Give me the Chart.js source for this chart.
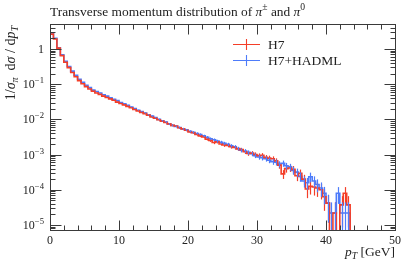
<!DOCTYPE html>
<html>
<head>
<meta charset="utf-8">
<script src="https://cdn.jsdelivr.net/npm/chart.js@4/dist/chart.umd.min.js"></script>
<style>
  html, body { margin: 0; padding: 0; background: #fff; }
  #wrap { width: 407px; height: 265px; }
</style>
</head>
<body>
<div id="wrap"><canvas id="ptChart"></canvas></div>
<script>
// pT binning: 0.5 GeV bins from 0 to 43.5 GeV
const binWidth = 0.5;
const nBins = 87;
const binEdges = Array.from({ length: nBins + 1 }, (_, i) => i * binWidth);

// 1/sigma dsigma/dpT, H7
const h7Values = [
  2.63, 1.91, 1.05, 0.646, 0.417, 0.295, 0.214, 0.162, 0.126, 0.102,
  0.0851, 0.0724, 0.0631, 0.0562, 0.0513, 0.0457, 0.0417, 0.0380, 0.0347, 0.0309,
  0.0282, 0.0257, 0.0234, 0.0214, 0.0191, 0.0174, 0.0158, 0.0145, 0.0132, 0.0117,
  0.0107, 0.00977, 0.00891, 0.00813, 0.00741, 0.00676, 0.00646, 0.00575, 0.00537, 0.00490,
  0.00437, 0.00417, 0.00372, 0.00339, 0.00316, 0.00275, 0.00251, 0.00219, 0.00229, 0.00200,
  0.00186, 0.00182, 0.00166, 0.00158, 0.00145, 0.00138, 0.00120, 0.00107, 0.00110, 0.00100,
  0.000933, 0.000955, 0.000832, 0.000794, 0.000759, 0.000661, 0.000501, 0.000282, 0.000398, 0.000417,
  0.000380, 0.000251, 0.000295, 0.000200, 0.000105, 0.000126, 0.000120, 0.000112, 0.000100, 0.0000631,
  0.0000417, 0, 0.0000219, 0, 0.0000372, 0.0000794, 0.0000372
];
// relative statistical uncertainty, H7
const h7Errors = [
  0.005, 0.005, 0.005, 0.005, 0.005, 0.005, 0.005, 0.005, 0.005, 0.005,
  0.015, 0.016, 0.017, 0.018, 0.019, 0.02, 0.021, 0.022, 0.023, 0.025,
  0.026, 0.027, 0.029, 0.03, 0.032, 0.034, 0.035, 0.037, 0.039, 0.041,
  0.044, 0.046, 0.048, 0.05, 0.053, 0.055, 0.057, 0.06, 0.062, 0.066,
  0.07, 0.072, 0.076, 0.08, 0.083, 0.088, 0.09, 0.1, 0.098, 0.105,
  0.11, 0.11, 0.115, 0.12, 0.125, 0.125, 0.135, 0.14, 0.14, 0.15,
  0.155, 0.15, 0.165, 0.17, 0.17, 0.18, 0.21, 0.28, 0.23, 0.23,
  0.24, 0.3, 0.27, 0.33, 0.45, 0.42, 0.43, 0.44, 0.47, 0.6,
  0.72, 0, 1.0, 0, 0.77, 0.5, 0.77
];

// 1/sigma dsigma/dpT, H7+HADML
const hadmlValues = [
  2.82, 2.00, 1.07, 0.676, 0.447, 0.316, 0.234, 0.178, 0.138, 0.112,
  0.0933, 0.0794, 0.0676, 0.0617, 0.0562, 0.0501, 0.0457, 0.0407, 0.0372, 0.0339,
  0.0302, 0.0275, 0.0251, 0.0224, 0.0204, 0.0182, 0.0166, 0.0151, 0.0135, 0.0123,
  0.0112, 0.0100, 0.00912, 0.00832, 0.00741, 0.00676, 0.00631, 0.00589, 0.00537, 0.00501,
  0.00457, 0.00427, 0.00398, 0.00372, 0.00339, 0.00309, 0.00282, 0.00263, 0.00240, 0.00224,
  0.00209, 0.00195, 0.00178, 0.00166, 0.00148, 0.00132, 0.00126, 0.00115, 0.00105, 0.000933,
  0.000851, 0.000813, 0.000759, 0.000692, 0.000631, 0.000603, 0.000537, 0.000562, 0.000479, 0.000447,
  0.000355, 0.000316, 0.000240, 0.000178, 0.000158, 0.000234, 0.000178, 0.000141, 0.000112, 0.0000794,
  0.0000417, 0.0000219, 0.0000219, 0.0000794, 0.0000219, 0.0000219, 0.0000219
];
// relative statistical uncertainty, H7+HADML
const hadmlErrors = [
  0.005, 0.005, 0.005, 0.005, 0.005, 0.005, 0.005, 0.005, 0.005, 0.005,
  0.015, 0.016, 0.017, 0.018, 0.019, 0.02, 0.021, 0.022, 0.023, 0.024,
  0.026, 0.027, 0.028, 0.03, 0.031, 0.033, 0.035, 0.036, 0.038, 0.04,
  0.043, 0.045, 0.048, 0.05, 0.053, 0.055, 0.057, 0.06, 0.062, 0.065,
  0.07, 0.072, 0.075, 0.077, 0.08, 0.083, 0.087, 0.09, 0.095, 0.1,
  0.1, 0.105, 0.11, 0.115, 0.12, 0.13, 0.13, 0.14, 0.145, 0.15,
  0.16, 0.165, 0.17, 0.18, 0.19, 0.19, 0.2, 0.2, 0.21, 0.22,
  0.25, 0.26, 0.3, 0.35, 0.37, 0.31, 0.35, 0.4, 0.44, 0.52,
  0.72, 1.0, 1.0, 0.5, 1.0, 1.0, 1.0
];

const xTickValues = [0, 10, 20, 30, 40, 50];
const yDecades = [0, -1, -2, -3, -4, -5];

const RED = "rgb(244, 62, 40)";
const BLUE = "rgb(78, 124, 250)";
const FONT = '"Liberation Serif", "DejaVu Serif", serif';
const Y_MIN = 7.2e-6;
const Y_MAX = 5.1;

// step histogram points: value of bin i is held from edge i to edge i+1
function stepPoints(values) {
  const pts = values.map((v, i) => ({ x: binEdges[i], y: v > 0 ? v : Y_MIN / 100 }));
  pts.push({ x: binEdges[values.length], y: Y_MIN / 100 });
  return pts;
}

// draw a run of text pieces: [text, style], style '' | 'i' | 'sup' | 'sub' | 'isub'
function richText(ctx, x, y, parts, size, align) {
  const fontFor = (st) => {
    const small = st === "sup" || st === "sub" || st === "isub";
    const ital = st === "i" || st === "isub";
    return (ital ? "italic " : "") + (small ? size * 0.72 : size) + "px " + FONT;
  };
  let total = 0;
  parts.forEach(([t, st]) => { ctx.font = fontFor(st); total += ctx.measureText(t).width; });
  let cx = align === "right" ? x - total : align === "center" ? x - total / 2 : x;
  ctx.textAlign = "left";
  ctx.textBaseline = "alphabetic";
  parts.forEach(([t, st]) => {
    ctx.font = fontFor(st);
    let dy = 0;
    if (st === "sup") dy = -size * 0.42;
    if (st === "sub" || st === "isub") dy = size * 0.2;
    ctx.fillText(t, cx, y + dy);
    cx += ctx.measureText(t).width;
  });
}

const rivetPlugin = {
  id: "rivet",
  afterDatasetsDraw(chart) {
    const { ctx, chartArea: a } = chart;
    const xs = chart.scales.x, ys = chart.scales.y;
    ctx.save();
    ctx.beginPath();
    ctx.rect(a.left, a.top, a.right - a.left, a.bottom - a.top);
    ctx.clip();
    [[h7Values, h7Errors, RED], [hadmlValues, hadmlErrors, BLUE]].forEach(([vals, errs, col]) => {
      ctx.strokeStyle = col;
      ctx.lineWidth = 1.2;
      vals.forEach((v, i) => {
        if (!(v > 0) || !errs[i]) return;
        const px = Math.round(xs.getPixelForValue(binEdges[i] + binWidth / 2)) + 0.5;
        const lo = v * (1 - errs[i]);
        const yTop = ys.getPixelForValue(v * (1 + errs[i]));
        const yBot = lo > 0 ? ys.getPixelForValue(lo) : a.bottom;
        ctx.beginPath();
        ctx.moveTo(px, yTop);
        ctx.lineTo(px, yBot);
        ctx.stroke();
      });
    });
    ctx.restore();
  },
  afterDraw(chart) {
    const { ctx, chartArea: a } = chart;
    const xs = chart.scales.x, ys = chart.scales.y;
    ctx.save();
    ctx.strokeStyle = "#3a3a3a";
    ctx.fillStyle = "#222";
    ctx.lineWidth = 1;
    const L = Math.round(a.left) + 0.5, R = Math.round(a.right) + 0.5;
    const T = Math.round(a.top) + 0.5, B = Math.round(a.bottom) + 0.5;
    ctx.strokeRect(L, T, R - L, B - T);

    ctx.beginPath();
    // x ticks, top and bottom, pointing inward
    for (let v = 0; v <= 50; v += 2) {
      const px = Math.round(xs.getPixelForValue(v)) + 0.5;
      const len = v % 10 === 0 ? 10 : 5;
      ctx.moveTo(px, B); ctx.lineTo(px, B - len);
      ctx.moveTo(px, T); ctx.lineTo(px, T + len);
    }
    // y ticks, left and right
    for (let d = -6; d <= 0; d++) {
      for (let m = 1; m <= 9; m++) {
        const val = m * Math.pow(10, d);
        if (val < Y_MIN || val > Y_MAX) continue;
        const py = Math.round(ys.getPixelForValue(val)) + 0.5;
        const len = m === 1 ? 11 : 5;
        ctx.moveTo(L, py); ctx.lineTo(L + len, py);
        ctx.moveTo(R, py); ctx.lineTo(R - len, py);
      }
    }
    ctx.stroke();

    // x tick labels
    ctx.fillStyle = "#222";
    xTickValues.forEach(v => {
      richText(ctx, xs.getPixelForValue(v), a.bottom + 14, [[String(v), ""]], 12, "center");
    });
    // y tick labels
    yDecades.forEach(d => {
      const py = ys.getPixelForValue(Math.pow(10, d)) + 4;
      if (d === 0) richText(ctx, a.left - 6, py, [["1", ""]], 12, "right");
      else richText(ctx, a.left - 6, py, [["10", ""], ["\u2212" + (-d), "sup"]], 12, "right");
    });

    // title
    richText(ctx, a.left, 16, [
      ["Transverse momentum distribution of ", ""], ["\u03c0", "i"], ["\u00b1", "sup"],
      [" and ", ""], ["\u03c0", "i"], ["0", "sup"]
    ], 13.4, "left");

    // x axis label
    richText(ctx, a.right, 256, [["p", "i"], ["T", "isub"], [" [GeV]", ""]], 13.5, "right");

    // y axis label
    ctx.save();
    ctx.translate(15, a.top + 2);
    ctx.rotate(-Math.PI / 2);
    richText(ctx, 0, 0, [
      ["1/", ""], ["\u03c3", "i"], ["\u03c0", "isub"], ["  d", ""], ["\u03c3", "i"],
      [" / d", ""], ["p", "i"], ["T", "isub"]
    ], 14, "right");
    ctx.restore();

    // legend
    [["H7", RED, 44], ["H7+HADML", BLUE, 60]].forEach(([label, col, ly]) => {
      ctx.strokeStyle = col;
      ctx.lineWidth = 1.1;
      ctx.beginPath();
      ctx.moveTo(233, ly + 0.5); ctx.lineTo(260, ly + 0.5);
      ctx.moveTo(246.5, ly - 5); ctx.lineTo(246.5, ly + 6);
      ctx.stroke();
      ctx.fillStyle = "#222";
      richText(ctx, 268, ly + 4.5, [[label, ""]], 13.5, "left");
    });
    ctx.restore();
  }
};

new Chart(document.getElementById("ptChart"), {
  type: "line",
  data: {
    datasets: [
      { label: "H7", data: stepPoints(h7Values), borderColor: RED, borderWidth: 1.6, stepped: true, pointRadius: 0, fill: false },
      { label: "H7+HADML", data: stepPoints(hadmlValues), borderColor: BLUE, borderWidth: 1.6, stepped: true, pointRadius: 0, fill: false }
    ]
  },
  options: {
    responsive: true,
    maintainAspectRatio: false,
    animation: false,
    layout: { padding: { top: 24, right: 12, left: 0, bottom: 0 } },
    plugins: { legend: { display: false }, tooltip: { enabled: false } },
    scales: {
      x: {
        type: "linear", min: 0, max: 50,
        grid: { display: false }, border: { display: false },
        ticks: { display: false },
        afterFit(scale) { scale.height = 35; }
      },
      y: {
        type: "logarithmic", min: Y_MIN, max: Y_MAX,
        grid: { display: false }, border: { display: false },
        ticks: { display: false },
        afterFit(scale) { scale.width = 50; }
      }
    }
  },
  plugins: [rivetPlugin]
});
</script>
</body>
</html>
